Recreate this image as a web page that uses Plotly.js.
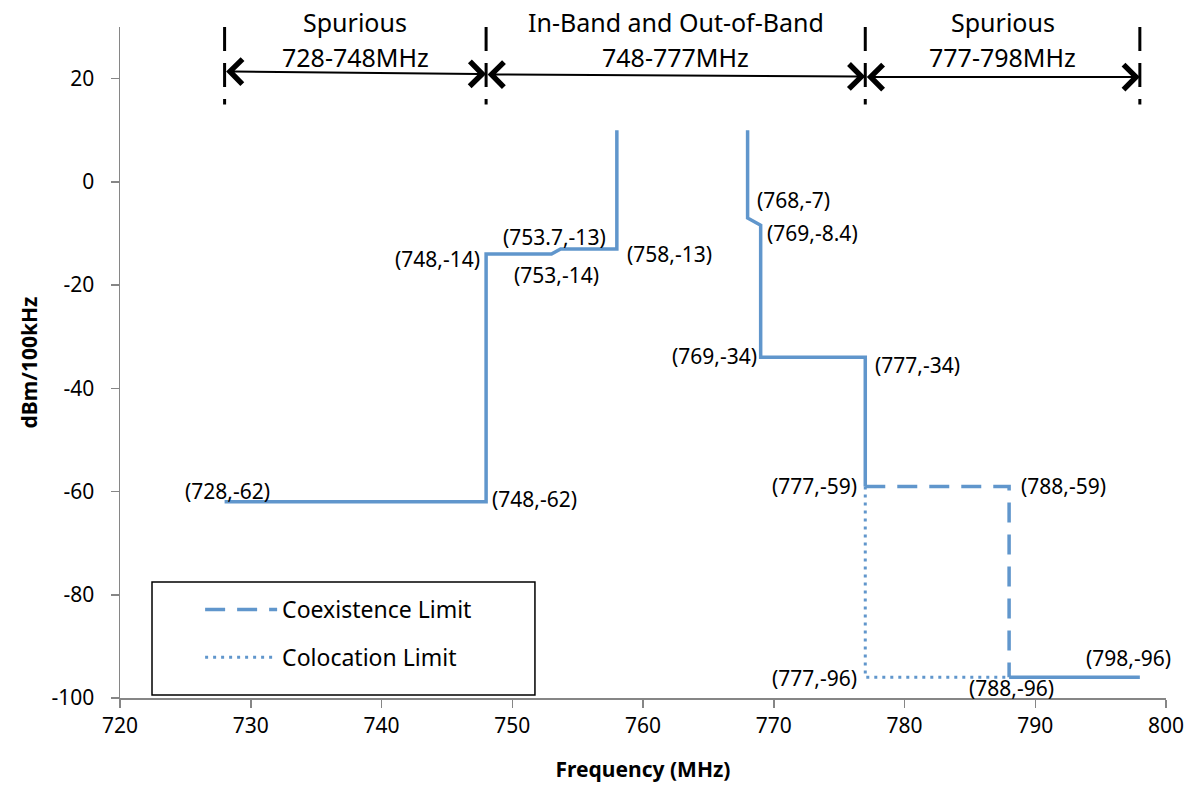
<!DOCTYPE html>
<html><head><meta charset="utf-8">
<script src="https://cdn.plot.ly/plotly-3.0.1.min.js"></script>
<style>html,body{margin:0;padding:0;background:#fff}</style>
</head><body>
<div id="chart" style="width:1192px;height:785px"></div>
<script>
// ---- data ----
const limitX = [728, 748, 748, 753, 753.7, 758, 758, null, 768, 768, 769, 769, 777, 777, null, 788, 798];
const limitY = [-62, -62, -14, -14, -13, -13, 10, null, 10, -7, -8.4, -34, -34, -59, null, -96, -96];
const coexX = [777, 788, 788];
const coexY = [-59, -59, -96];
const coloX = [777, 777, 788];
const coloY = [-59, -96, -96];
const pointX = [728, 748, 748, 753.7, 753, 758, 768, 769, 769, 777, 777, 788, 777, 788, 798];
const pointY = [-62, -62, -14, -13, -14, -13, -7, -8.4, -34, -34, -59, -59, -96, -96, -96];
const bandEdges = [728, 748, 777, 798];
const bandNames = ["Spurious", "In-Band and Out-of-Band", "Spurious"];
const bandRanges = ["728-748MHz", "748-777MHz", "777-798MHz"];
const yTickVals = [-100, -80, -60, -40, -20, 0, 20];
const yTickText = ["-100", "-80", "-60", "-40", "-20", "0", "20"];
const xTickVals = [720, 730, 740, 750, 760, 770, 780, 790, 800];
const xTickText = ["720", "730", "740", "750", "760", "770", "780", "790", "800"];

// ---- styles ----
const BLUE = "#6096cc";
const FONT = "Noto Sans";
const labelStyle = [
  ["center", 3, 11], ["left", 4, 3], ["right", -4, -5], ["center", -6, 12],
  ["center", 5, -21], ["left", 8, -5], ["left", 7, 18], ["left", 4, -8],
  ["right", -2, 1], ["left", 8, -8], ["right", -6, 0], ["left", 10, 0],
  ["right", -6, -1], ["center", 2, -11], ["center", -11, 19]
];
const arrowY = [[21.4, 20.9], [20.8, 20.4], [20.3, 20.3]];

const traces = [
  {x: limitX, y: limitY, mode: "lines", line: {color: BLUE, width: 3.5}, showlegend: false, hoverinfo: "skip", connectgaps: false},
  {x: coexX, y: coexY, mode: "lines", name: "Coexistence Limit", legendgroup: "a",
   line: {color: BLUE, width: 3.5, dash: "20px,12px"}},
  {x: coloX, y: coloY, mode: "lines", name: "Colocation Limit", legendgroup: "b",
   line: {color: BLUE, width: 3, dash: "3px,5px"}}
];

const annotations = [];
pointX.forEach((px, i) => {
  const s = labelStyle[i];
  annotations.push({x: px, y: pointY[i], xref: "x", yref: "y", showarrow: false,
    text: "(" + px + "," + pointY[i] + ")", xanchor: s[0], yanchor: "middle",
    xshift: s[1], yshift: s[2], font: {family: FONT, size: 21, color: "#000"}});
});
for (let i = 0; i < bandNames.length; i++) {
  const mid = (bandEdges[i] + bandEdges[i + 1]) / 2;
  annotations.push({x: mid, y: 1.0075, xref: "x", yref: "paper", showarrow: false,
    text: bandNames[i], xanchor: "center", yanchor: "middle", font: {family: FONT, size: 25, color: "#000"}});
  annotations.push({x: mid, y: 0.955, xref: "x", yref: "paper", showarrow: false,
    text: bandRanges[i], xanchor: "center", yanchor: "middle", font: {family: FONT, size: 25, color: "#000"}});
  annotations.push({x: bandEdges[i + 1], y: arrowY[i][1], ax: bandEdges[i], ay: arrowY[i][0],
    xref: "x", yref: "y", axref: "x", ayref: "y", text: " ", font: {size: 1},
    showarrow: true, arrowside: "end+start", arrowhead: 4, startarrowhead: 4,
    arrowsize: 2.4, startarrowsize: 2.4, arrowwidth: 2, arrowcolor: "#000", standoff: 0, startstandoff: 0});
}

const shapes = bandEdges.map(e => ({type: "line", xref: "x", yref: "y", x0: e, x1: e, y0: 30, y1: 15,
  line: {color: "#000", width: 3, dash: "24px,12px,24px,12px,6px"}}));
shapes.push({type: "rect", xref: "paper", yref: "paper", x0: 0.0306, x1: 0.3967, y0: 0.0045, y1: 0.1729,
  line: {color: "#000", width: 1.5}, fillcolor: "rgba(0,0,0,0)"});

const layout = {
  width: 1192, height: 785,
  margin: {l: 120, r: 26, t: 27, b: 87},
  paper_bgcolor: "#fff", plot_bgcolor: "#fff",
  font: {family: FONT, color: "#000"},
  xaxis: {range: [720, 800], tickmode: "array", tickvals: xTickVals, ticktext: xTickText,
    showgrid: false, zeroline: false, showline: true, linecolor: "#868686", linewidth: 1.5,
    ticks: "outside", ticklen: 8, tickcolor: "#868686", tickwidth: 1.5,
    tickfont: {family: FONT, size: 21, color: "#000"},
    title: {text: "<b>Frequency (MHz)</b>", font: {family: FONT, size: 21, color: "#000"}, standoff: 24}},
  yaxis: {range: [-100, 30], tickmode: "array", tickvals: yTickVals, ticktext: yTickText,
    showgrid: false, zeroline: false, showline: true, linecolor: "#868686", linewidth: 1.5,
    ticks: "outside", ticklen: 8, tickcolor: "#868686", tickwidth: 1.5,
    ticklabelstandoff: 12,
    tickfont: {family: FONT, size: 21, color: "#000"},
    title: {text: "<b>dBm/100kHz</b>", font: {family: FONT, size: 21, color: "#000"}, standoff: 8}},
  showlegend: true,
  legend: {x: 0.0766, y: 0.164, xanchor: "left", yanchor: "top", bgcolor: "rgba(0,0,0,0)",
    borderwidth: 0, itemwidth: 72, tracegroupgap: 15,
    font: {family: FONT, size: 23, color: "#000"}},
  annotations: annotations,
  shapes: shapes
};

Plotly.newPlot("chart", traces, layout, {displayModeBar: false, staticPlot: true});
</script>
</body></html>
